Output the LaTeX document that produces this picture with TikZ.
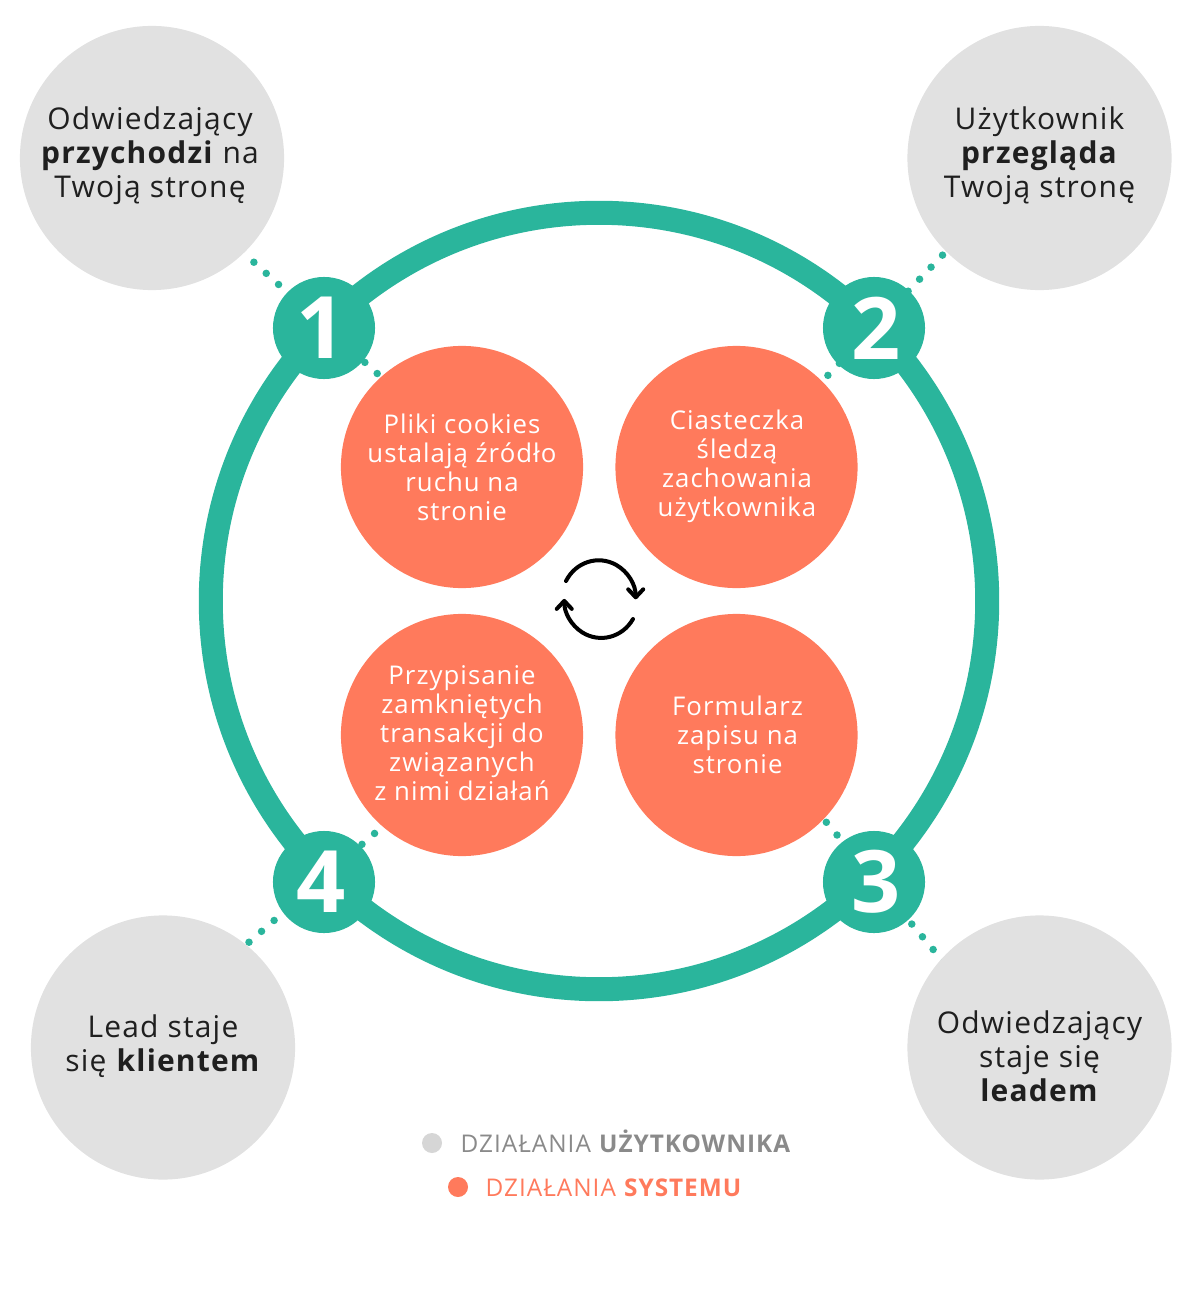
\documentclass[tikz,border=0pt]{standalone}
\usepackage{fontspec}
\setmainfont[LetterSpace=4]{Open Sans}
\newfontfamily\badgefont{Open Sans}
\usepackage{xcolor}
\usetikzlibrary{arrows.meta, backgrounds}
\definecolor{tealring}{HTML}{2AB59C}
\definecolor{coral}{HTML}{FF7A5C}
\definecolor{softgray}{HTML}{E1E1E1}
\definecolor{inkdark}{HTML}{1F1F1F}
\definecolor{legendgray}{HTML}{8A8A8A}
\tikzset{
    usercirc/.style={circle, fill=softgray, minimum size=2.64cm, inner sep=0pt},
    syscirc/.style={circle, fill=coral, minimum size=2.42cm, inner sep=0pt},
    badge/.style={circle, fill=tealring, text=white, minimum size=1.02cm, inner sep=0pt, font=\badgefont\fontsize{24.5}{24.5}\selectfont\bfseries},
    usertext/.style={align=center, text=inkdark, font=\fontsize{8.52}{9.67}\selectfont},
    systext/.style={align=center, text=white, font=\fontsize{7.33}{8.25}\selectfont},
    dotlink/.style={tealring, line width=0.075cm, line cap=round, dash pattern=on 0pt off 0.166cm, shorten >=-0.05cm},
    legenddot/.style={circle, minimum size=0.2cm, inner sep=0pt},
    legendtext/.style={anchor=west, inner sep=0pt, font=\fontsize{6.93}{8}\selectfont},
    loopline/.style={line width=0.04cm, line cap=round, -{Straight Barb[length=0.08cm, width=0.15cm, round]}}
}
\begin{document}
\begin{tikzpicture}[x=0.01cm, y=-0.01cm]
    \useasboundingbox (0,0) rectangle (1200,1300);

    % Ring
    \node[circle, draw=tealring, line width=0.24cm, minimum size=7.76cm, inner sep=0pt] (ring) at (599,601) {};

    % User actions
    \node[usercirc] (user1) at (152,158) {};
    \node[usercirc] (user2) at (1039.5,158) {};
    \node[usercirc] (user3) at (1039.5,1047.5) {};
    \node[usercirc] (user4) at (163,1047.5) {};
    \node[usertext] (usertxt1) at (150,156) {Odwiedzający\\\textbf{przychodzi} na\\Twoją stronę};
    \node[usertext] (usertxt2) at (1039.5,156) {Użytkownik\\\textbf{przegląda}\\Twoją stronę};
    \node[usertext] (usertxt3) at (1039.5,1056) {Odwiedzający\\staje się\\\textbf{leadem}};
    \node[usertext] (usertxt4) at (163,1046) {Lead staje\\się \textbf{klientem}};

    % System actions
    \node[syscirc] (sys1) at (462,467) {};
    \node[syscirc] (sys2) at (736.5,467) {};
    \node[syscirc] (sys3) at (736.5,735) {};
    \node[syscirc] (sys4) at (462,735) {};
    \node[systext] (systxt1) at (462,467.5) {Pliki cookies\\ustalają źródło\\ruchu na\\stronie};
    \node[systext] (systxt2) at (737,466.5) {Ciasteczka\\śledzą\\zachowania\\użytkownika};
    \node[systext] (systxt3) at (737.5,735) {Formularz\\zapisu na\\stronie};
    \node[systext] (systxt4) at (462,733) {Przypisanie\\zamkniętych\\transakcji do\\związanych\\z nimi działań};

    % Steps
    \foreach \s/\x/\y/\k in {1/324/328/-0.06, 2/874/328/0.05, 3/874/882/0.04, 4/324/882/-0.06} {
        \node[badge] (badge\s) at (\x,\y) {\kern\k cm\s};
    }

    % Dotted links
    \begin{scope}[on background layer]
        \draw[dotlink, dash phase=0.036cm] (user1.-46.2) -- (sys1.132.2);
        \draw[dotlink, dash phase=0.121cm] (user2.225.9) -- (sys2.45);
        \draw[dotlink, dash phase=0.131cm] (sys3.-44.2) -- (user3.138.7);
        \draw[dotlink, dash phase=0.066cm] (sys4.229.7) -- (user4.51.4);
    \end{scope}

    % Cycle icon
    \draw[loopline] (566,581) arc[start angle=152, end angle=0, x radius=0.37cm, y radius=0.39cm];
    \draw[loopline] (633,619) arc[start angle=-31, end angle=-180, x radius=0.37cm, y radius=0.39cm];

    % Legend
    \node[legenddot, fill=softgray!95!black] (keyuser) at (432,1143) {};
    \node[legendtext, text=legendgray] (keyusertxt) at (460,1141.5) {DZIAŁANIA \textbf{UŻYTKOWNIKA}};
    \node[legenddot, fill=coral] (keysys) at (458,1187) {};
    \node[legendtext, text=coral] (keysystxt) at (485,1187.5) {DZIAŁANIA \textbf{SYSTEMU}};
\end{tikzpicture}
\end{document}
